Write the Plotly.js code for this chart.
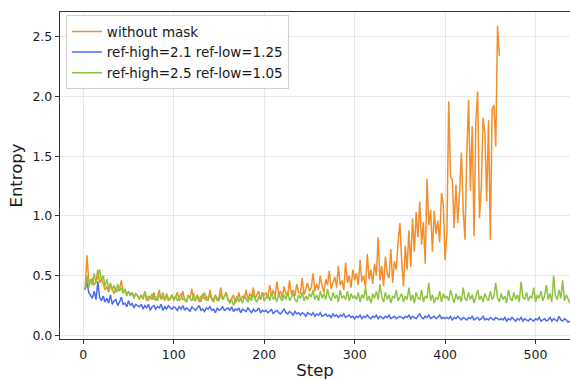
<!DOCTYPE html>
<html>
<head>
<meta charset="utf-8">
<script src="https://cdn.plot.ly/plotly-3.0.1.min.js"></script>
<style>html,body{margin:0;padding:0;background:#fff;}#chart{width:570px;height:380px;}</style>
</head>
<body>
<div id="chart"></div>
<script>
// Logged every 2 steps, starting at step 2
const firstStep = 2;
const stepEvery = 2;

const seriesNames = ["without mask", "ref-high=2.1 ref-low=1.25", "ref-high=2.5 ref-low=1.05"];

const withoutMask = [
  0.38, 0.67, 0.46, 0.44, 0.48, 0.42, 0.45, 0.55, 0.44, 0.47,
  0.43, 0.38, 0.41, 0.36, 0.42, 0.38, 0.35, 0.40, 0.37, 0.39,
  0.46, 0.36, 0.38, 0.33, 0.37, 0.34, 0.36, 0.32, 0.35, 0.33,
  0.31, 0.34, 0.30, 0.37, 0.31, 0.29, 0.33, 0.30, 0.36, 0.29, 0.32, 0.38, 0.30, 0.33, 0.29, 0.35, 0.31, 0.30, 0.34, 0.29,
  0.32, 0.36, 0.29, 0.31, 0.37, 0.30, 0.28, 0.33, 0.31, 0.39, 0.30, 0.29, 0.34, 0.31, 0.28, 0.35, 0.30, 0.33, 0.29, 0.38,
  0.31, 0.30, 0.34, 0.29, 0.32, 0.40, 0.30, 0.33, 0.36, 0.31,
  0.28, 0.31, 0.34, 0.27, 0.30, 0.36, 0.29, 0.33, 0.31, 0.38, 0.30, 0.35, 0.32, 0.40, 0.31, 0.34, 0.37, 0.30, 0.36, 0.33,
  0.36, 0.31, 0.42, 0.33, 0.38, 0.32, 0.45, 0.34, 0.37, 0.31, 0.41, 0.35, 0.33, 0.46, 0.34, 0.38, 0.33, 0.43, 0.36, 0.35,
  0.48, 0.34, 0.39, 0.44, 0.37,
  0.40, 0.52, 0.37, 0.43, 0.38, 0.50, 0.41, 0.36, 0.47, 0.42, 0.54, 0.39, 0.44, 0.49, 0.40, 0.58, 0.42, 0.46, 0.38, 0.61,
  0.44, 0.50, 0.40, 0.55, 0.46,
  0.52, 0.42, 0.63, 0.45, 0.50, 0.40, 0.68, 0.47, 0.55, 0.43, 0.60, 0.50, 0.82, 0.46, 0.58, 0.41, 0.66, 0.52, 0.48, 0.72,
  0.44, 0.62, 0.55, 0.78, 0.94,
  0.62, 0.41, 0.75, 0.55, 0.88, 0.57, 0.98, 0.70, 1.03, 0.82, 1.12, 0.76, 0.95, 0.60, 1.31, 0.92, 1.05, 0.70, 1.04, 0.85,
  0.96, 0.78, 1.19, 1.10, 0.63,
  0.85, 1.96, 1.33, 1.30, 0.90, 1.26, 0.94, 1.20, 1.53, 1.05, 0.80, 1.52, 1.97, 1.21, 1.75, 0.83, 1.79, 2.04, 0.98, 1.24,
  1.82, 1.70, 1.12, 1.80, 0.80, 1.89, 1.93, 1.58, 2.59, 2.34
];

const refHigh21 = [
  0.38, 0.45, 0.36, 0.34, 0.31, 0.37, 0.30, 0.45, 0.32, 0.29,
  0.33, 0.28, 0.31, 0.27, 0.34, 0.26, 0.29, 0.30, 0.25, 0.28, 0.32, 0.26, 0.27, 0.24, 0.29, 0.25, 0.27, 0.23, 0.26, 0.25,
  0.24, 0.26, 0.22, 0.25, 0.23, 0.26, 0.21, 0.24, 0.25, 0.22, 0.24, 0.23, 0.26, 0.21, 0.24, 0.22, 0.25, 0.23, 0.22, 0.24,
  0.23, 0.21, 0.24, 0.22, 0.25, 0.21, 0.23, 0.22, 0.20, 0.24, 0.22, 0.21, 0.23, 0.25, 0.21, 0.22, 0.20, 0.23, 0.22, 0.24,
  0.21, 0.22, 0.19, 0.23, 0.21, 0.22, 0.24, 0.21, 0.22, 0.23,
  0.21, 0.24, 0.20, 0.22, 0.21, 0.23, 0.19, 0.22, 0.21, 0.20, 0.23, 0.21, 0.19, 0.22, 0.20, 0.21, 0.23, 0.19, 0.21, 0.20,
  0.21, 0.19, 0.20, 0.22, 0.18, 0.20, 0.21, 0.19, 0.18, 0.20, 0.22, 0.19, 0.18, 0.20, 0.19, 0.17, 0.20, 0.18, 0.19, 0.17,
  0.19, 0.18, 0.16, 0.19, 0.18,
  0.17, 0.19, 0.16, 0.18, 0.17, 0.19, 0.16, 0.17, 0.18, 0.16, 0.17, 0.15, 0.18, 0.16, 0.17, 0.15, 0.17, 0.16, 0.18, 0.15,
  0.16, 0.17, 0.15, 0.16, 0.14,
  0.16, 0.15, 0.17, 0.14, 0.16, 0.15, 0.17, 0.15, 0.14, 0.16, 0.15, 0.17, 0.14, 0.16, 0.15, 0.14, 0.16, 0.15, 0.17, 0.14,
  0.15, 0.16, 0.14, 0.15, 0.16,
  0.15, 0.14, 0.16, 0.15, 0.17, 0.14, 0.16, 0.15, 0.14, 0.16, 0.18, 0.15, 0.14, 0.16, 0.15, 0.17, 0.14, 0.15, 0.16, 0.14,
  0.15, 0.17, 0.14, 0.15, 0.14,
  0.15, 0.14, 0.16, 0.13, 0.15, 0.14, 0.16, 0.14, 0.13, 0.15, 0.14, 0.13, 0.15, 0.14, 0.16, 0.13, 0.14, 0.15, 0.13, 0.14,
  0.16, 0.13, 0.14, 0.13, 0.15, 0.14, 0.13, 0.15, 0.14, 0.13,
  0.14, 0.13, 0.15, 0.12, 0.14, 0.13, 0.15, 0.13, 0.12, 0.14, 0.13, 0.15, 0.12, 0.14, 0.13, 0.12, 0.14, 0.13, 0.12, 0.14,
  0.13, 0.15, 0.12, 0.13, 0.14, 0.12, 0.13, 0.15, 0.12, 0.14, 0.13, 0.12, 0.16, 0.13, 0.12, 0.14, 0.13, 0.11, 0.12, 0.11
];

const refHigh25 = [
  0.38, 0.50, 0.40, 0.47, 0.42, 0.52, 0.44, 0.49, 0.55, 0.46,
  0.50, 0.41, 0.47, 0.39, 0.44, 0.38, 0.42, 0.36, 0.43, 0.37, 0.40, 0.35, 0.39, 0.34, 0.37, 0.33, 0.36, 0.31, 0.35, 0.33,
  0.30, 0.34, 0.31, 0.36, 0.29, 0.33, 0.31, 0.35, 0.30, 0.32, 0.29, 0.34, 0.31, 0.36, 0.30, 0.33, 0.29, 0.31, 0.34, 0.30,
  0.33, 0.29, 0.32, 0.35, 0.30, 0.31, 0.28, 0.34, 0.31, 0.29, 0.35, 0.30, 0.32, 0.28, 0.33, 0.31, 0.36, 0.29, 0.31, 0.34,
  0.30, 0.28, 0.33, 0.31, 0.29, 0.35, 0.30, 0.32, 0.36, 0.29,
  0.27, 0.30, 0.25, 0.29, 0.33, 0.28, 0.31, 0.27, 0.34, 0.30, 0.28, 0.32, 0.29, 0.35, 0.30, 0.28, 0.33, 0.30, 0.36, 0.29,
  0.31, 0.34, 0.29, 0.36, 0.30, 0.33, 0.28, 0.35, 0.31, 0.29, 0.34, 0.30, 0.37, 0.29, 0.32, 0.35, 0.30, 0.28, 0.34, 0.31,
  0.36, 0.29, 0.33, 0.30, 0.35,
  0.32, 0.38, 0.30, 0.34, 0.29, 0.37, 0.31, 0.35, 0.30, 0.39, 0.32, 0.29, 0.36, 0.31, 0.34, 0.28, 0.38, 0.31, 0.33, 0.30,
  0.37, 0.29, 0.35, 0.31, 0.33,
  0.30, 0.36, 0.28, 0.34, 0.31, 0.40, 0.29, 0.33, 0.27, 0.35, 0.31, 0.37, 0.30, 0.43, 0.32, 0.28, 0.36, 0.30, 0.34, 0.27,
  0.33, 0.31, 0.38, 0.29, 0.32,
  0.35, 0.28, 0.33, 0.30, 0.40, 0.29, 0.34, 0.27, 0.36, 0.31, 0.30, 0.38, 0.28, 0.33, 0.31, 0.44, 0.29, 0.34, 0.27, 0.32,
  0.30, 0.37, 0.28, 0.35, 0.31,
  0.33, 0.29, 0.38, 0.31, 0.27, 0.35, 0.30, 0.33, 0.28, 0.40, 0.31, 0.29, 0.36, 0.30, 0.34, 0.27, 0.32, 0.38, 0.30, 0.33,
  0.28, 0.35, 0.31, 0.29, 0.37, 0.30, 0.33, 0.44, 0.31, 0.28,
  0.35, 0.30, 0.33, 0.27, 0.38, 0.31, 0.29, 0.36, 0.30, 0.34, 0.28, 0.45, 0.32, 0.30, 0.36, 0.29, 0.33, 0.31, 0.40, 0.28,
  0.34, 0.31, 0.37, 0.29, 0.33, 0.42, 0.30, 0.35, 0.28, 0.50, 0.33, 0.30, 0.38, 0.31, 0.46, 0.29, 0.34, 0.31, 0.27, 0.30
];

const xTicks = [0, 100, 200, 300, 400, 500];
const yTicks = [0.0, 0.5, 1.0, 1.5, 2.0, 2.5];
const colors = ["#f28e2b", "#4a6cf0", "#8cc43f"];

function stepsFor(values) {
  return values.map((_, i) => firstStep + i * stepEvery);
}

const allSeries = [withoutMask, refHigh21, refHigh25];
const traces = allSeries.map((vals, k) => ({
  x: stepsFor(vals),
  y: vals,
  type: "scatter",
  mode: "lines",
  name: seriesNames[k],
  line: {color: colors[k], width: 1.5}
}));

const font = "DejaVu Sans, sans-serif";
const layout = {
  width: 570, height: 380,
  margin: {l: 60, r: 0, t: 12, b: 41},
  paper_bgcolor: "#fff", plot_bgcolor: "#fff",
  font: {family: font, color: "#1a1a1a", size: 12},
  showlegend: true,
  legend: {
    x: 0.0115, y: 0.99, xanchor: "left", yanchor: "top",
    bgcolor: "rgba(255,255,255,0.85)", bordercolor: "#d0d0d0", borderwidth: 1,
    font: {family: font, size: 13.5, color: "#1a1a1a"},
    tracegroupgap: 0, itemwidth: 30
  },
  xaxis: {
    range: [-25.8, 538.1],
    tickvals: xTicks, ticktext: xTicks.map(String),
    ticks: "outside", ticklen: 4, tickwidth: 1, tickcolor: "#333",
    showline: true, linecolor: "#333", linewidth: 1.2, mirror: true,
    showgrid: true, gridcolor: "#e8e8e8", gridwidth: 1,
    zeroline: false,
    tickfont: {family: font, size: 12.5, color: "#1a1a1a"},
    title: {text: "Step", font: {family: font, size: 16.5, color: "#1a1a1a"}, standoff: 4}
  },
  yaxis: {
    range: [-0.03, 2.706],
    tickvals: yTicks, ticktext: yTicks.map(v => v.toFixed(1)),
    ticks: "outside", ticklen: 4, tickwidth: 1, tickcolor: "#333",
    showline: true, linecolor: "#333", linewidth: 1.2, mirror: true,
    showgrid: true, gridcolor: "#e8e8e8", gridwidth: 1,
    zeroline: false,
    tickfont: {family: font, size: 12.5, color: "#1a1a1a"},
    title: {text: "Entropy", font: {family: font, size: 16.5, color: "#1a1a1a"}, standoff: 5}
  }
};

Plotly.newPlot("chart", traces, layout, {displayModeBar: false, staticPlot: true});
</script>
</body>
</html>
